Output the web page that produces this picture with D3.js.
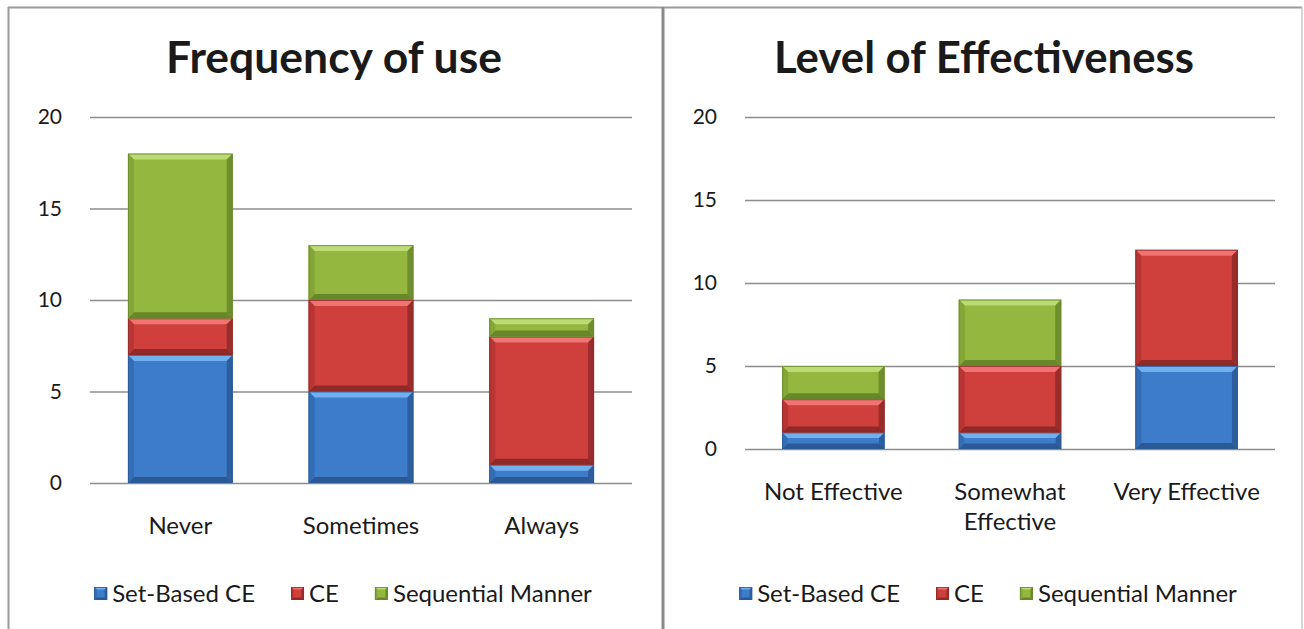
<!DOCTYPE html>
<html>
<head>
<meta charset="utf-8">
<script src="https://cdn.jsdelivr.net/npm/d3@7"></script>
<style>
  html, body { margin: 0; padding: 0; background: #fff; }
  svg { display: block; }
  text { font-family: Lato, "Open Sans", sans-serif; fill: #1a1a1a; }
</style>
</head>
<body>
<svg id="chart" width="1304" height="629"></svg>
<script>
// ---- data ----
const seriesNames = ["Set-Based CE", "CE", "Sequential Manner"];
const yTicks = [0, 5, 10, 15, 20];

const freqTitle = "Frequency of use";
const freqCategories = ["Never", "Sometimes", "Always"];
const freqSetBased = [7, 5, 1];
const freqCE = [2, 5, 7];
const freqSequential = [9, 3, 1];

const effTitle = "Level of Effectiveness";
const effCategories = [["Not Effective"], ["Somewhat", "Effective"], ["Very Effective"]];
const effSetBased = [1, 1, 5];
const effCE = [2, 4, 7];
const effSequential = [2, 4, 0];

// ---- styling ----
const palette = [
  { base: "#3d7cc9", light: "#72afef", dark: "#2a5996", side: "#336db5" },
  { base: "#cf3f3c", light: "#ef7472", dark: "#8f2a28", side: "#b93533" },
  { base: "#93b73f", light: "#bddb74", dark: "#68872a", side: "#84a637" }
];

const svg = d3.select("#chart");

// panel frames
svg.append("line").attr("x1", 8).attr("x2", 1302).attr("y1", 7.5).attr("y2", 7.5)
  .attr("stroke", "#9a9a9a").attr("stroke-width", 2);
svg.append("line").attr("x1", 8.5).attr("x2", 8.5).attr("y1", 7).attr("y2", 629)
  .attr("stroke", "#9a9a9a").attr("stroke-width", 2);
svg.append("line").attr("x1", 663).attr("x2", 663).attr("y1", 7).attr("y2", 629)
  .attr("stroke", "#8a8a8a").attr("stroke-width", 3);
svg.append("line").attr("x1", 1302).attr("x2", 1302).attr("y1", 7).attr("y2", 629)
  .attr("stroke", "#c8c8c8").attr("stroke-width", 1.5);

// draws one bevelled segment
function bevelRect(g, x, y, w, h, c) {
  const b = Math.min(6, h / 3, w / 5);
  const seg = g.append("g");
  seg.append("rect").attr("x", x).attr("y", y).attr("width", w).attr("height", h).attr("fill", c.base);
  const poly = pts => seg.append("polygon").attr("points", pts.map(p => p.join(",")).join(" "));
  poly([[x, y], [x + w, y], [x + w - b, y + b], [x + b, y + b]]).attr("fill", c.light);
  poly([[x, y + h], [x + w, y + h], [x + w - b, y + h - b], [x + b, y + h - b]]).attr("fill", c.dark);
  poly([[x, y], [x + b, y + b], [x + b, y + h - b], [x, y + h]]).attr("fill", c.side);
  poly([[x + w, y], [x + w - b, y + b], [x + w - b, y + h - b], [x + w, y + h]]).attr("fill", c.dark).attr("opacity", 0.85);
  seg.append("rect").attr("x", x + 0.5).attr("y", y + 0.5).attr("width", w - 1).attr("height", Math.max(0, h - 1))
    .attr("fill", "none").attr("stroke", c.dark).attr("stroke-width", 1).attr("opacity", 0.8);
}

function fitText(sel, targetWidth, startSize) {
  sel.style("font-size", startSize + "px");
  const w = sel.node().getComputedTextLength();
  sel.style("font-size", (startSize * targetWidth / w) + "px");
}

function drawPanel(opts) {
  const g = svg.append("g");
  const { categories, series, xRange, yRange, title, titleX, titleWidth, catY, legendCenter } = opts;

  const x = d3.scaleBand().domain(d3.range(categories.length)).range(xRange)
    .paddingInner(0.42).paddingOuter(0.21);
  const y = d3.scaleLinear().domain([0, 20]).range(yRange);

  // title
  const t = g.append("text").attr("x", titleX).attr("y", 73).attr("text-anchor", "middle")
    .style("font-weight", "bold").text(title);
  fitText(t, titleWidth, 40);

  // gridlines + tick labels via axis
  const axis = d3.axisLeft(y).tickValues(yTicks).tickSize(-(xRange[1] - xRange[0])).tickPadding(28);
  const ax = g.append("g").attr("transform", `translate(${xRange[0]},0)`).call(axis);
  ax.select(".domain").remove();
  ax.selectAll(".tick line").attr("stroke", "#8c8c8c").attr("stroke-width", 1.5);
  ax.selectAll(".tick text").style("font-size", "21px").attr("fill", "#1a1a1a")
    .style("font-family", "Lato, sans-serif");

  // stacked bars
  const stackData = categories.map((c, i) => {
    const o = { i };
    series.forEach((s, k) => o[k] = s[i]);
    return o;
  });
  const stacked = d3.stack().keys(series.map((s, k) => k))(stackData);
  stacked.forEach((layer, k) => {
    layer.forEach((d, i) => {
      if (d[1] - d[0] <= 0) return;
      const y0 = y(d[0]), y1 = y(d[1]);
      bevelRect(g, x(i), y1, x.bandwidth(), y0 - y1, palette[k]);
    });
  });

  // category labels
  categories.forEach((lines, i) => {
    const arr = Array.isArray(lines) ? lines : [lines];
    const txt = g.append("text").attr("x", x(i) + x.bandwidth() / 2).attr("y", catY)
      .attr("text-anchor", "middle").style("font-size", "24px");
    arr.forEach((ln, j) => txt.append("tspan").attr("x", x(i) + x.bandwidth() / 2)
      .attr("dy", j === 0 ? 0 : 30).text(ln));
  });

  // legend, centred under the plot
  const lg = g.append("g");
  let cx = 0;
  const sw = 13, itemGap = 36;
  seriesNames.forEach((name, k) => {
    bevelRect(lg, cx, 587, sw, sw, palette[k]);
    const lt = lg.append("text").attr("x", cx + sw + 5).attr("y", 602).style("font-size", "24px").text(name);
    cx += sw + 5 + lt.node().getComputedTextLength() + (k < seriesNames.length - 1 ? itemGap : 0);
  });
  lg.attr("transform", `translate(${legendCenter - cx / 2},0)`);
}

drawPanel({
  categories: freqCategories,
  series: [freqSetBased, freqCE, freqSequential],
  xRange: [90, 632], yRange: [483, 117],
  title: freqTitle, titleX: 334, titleWidth: 336,
  catY: 534, legendCenter: 343
});

drawPanel({
  categories: effCategories,
  series: [effSetBased, effCE, effSequential],
  xRange: [745, 1275], yRange: [449, 117],
  title: effTitle, titleX: 984, titleWidth: 420,
  catY: 500, legendCenter: 988
});
</script>
</body>
</html>
